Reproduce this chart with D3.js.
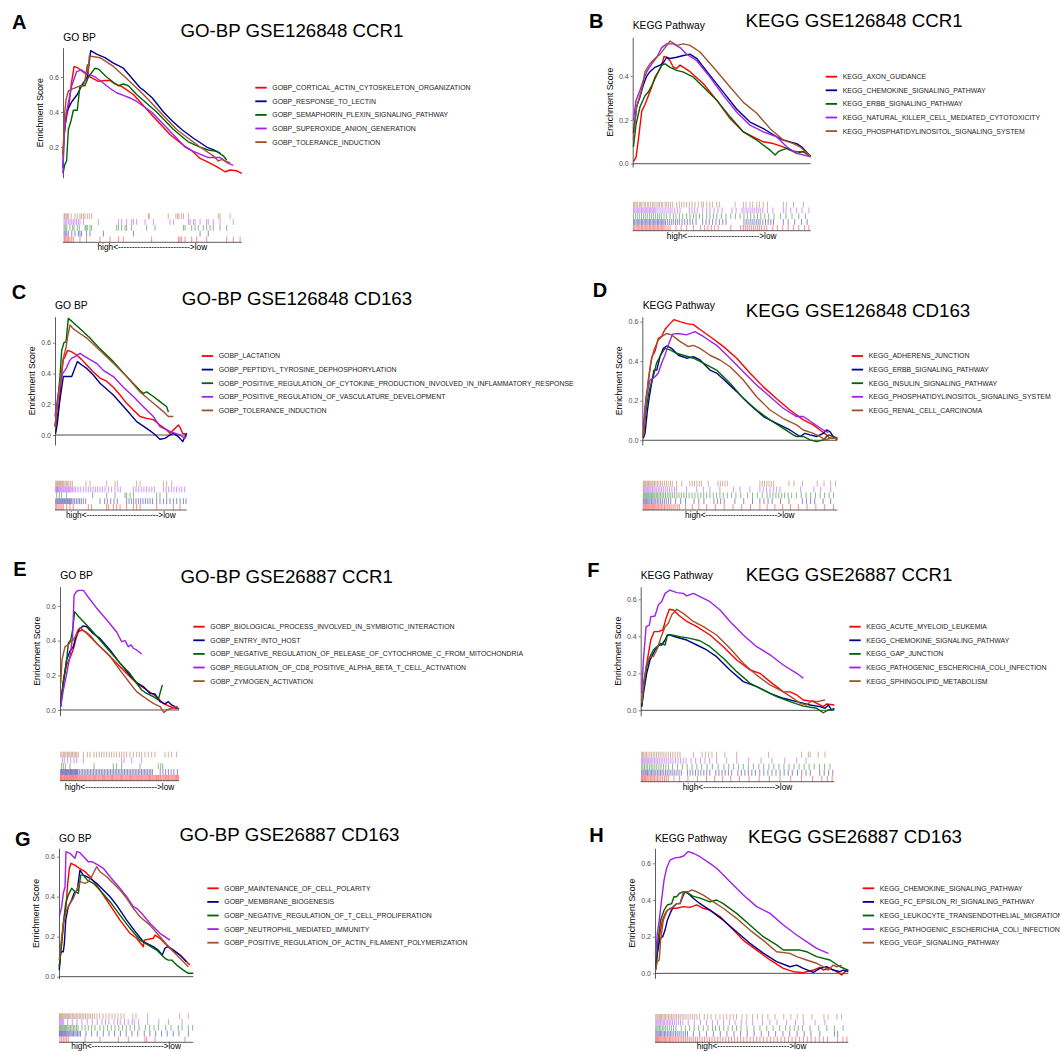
<!DOCTYPE html>
<html>
<head>
<meta charset="utf-8">
<script src="https://cdn.jsdelivr.net/npm/d3@7"></script>
<style>
  body { margin: 0; background: #fff; }
  svg { display: block; font-family: "Liberation Sans", Arial, Helvetica, sans-serif; }
</style>
</head>
<body>
<svg id="chart" width="1060" height="1051"></svg>
<script>
// цвета наборов генов (одинаковые во всех панелях)
const setColors = ['#FF0000', '#00008B', '#006400', '#A020F0', '#A0522D'];

const panelIds = ['A', 'B', 'C', 'D', 'E', 'F', 'G', 'H'];
const panelTitles = ['GO-BP GSE126848 CCR1', 'KEGG GSE126848 CCR1', 'GO-BP GSE126848 CD163', 'KEGG GSE126848 CD163',
  'GO-BP GSE26887 CCR1', 'KEGG GSE26887 CCR1', 'GO-BP GSE26887 CD163', 'KEGG GSE26887 CD163'];
const panelSubtitles = ['GO BP', 'KEGG Pathway', 'GO BP', 'KEGG Pathway', 'GO BP', 'KEGG Pathway', 'GO BP', 'KEGG Pathway'];
const yTicksA = [0.2, 0.4, 0.6];
const yTicksB = [0.0, 0.2, 0.4];
const yTicksRest = [0.0, 0.2, 0.4, 0.6];

// ---------- A ----------
const setsA = ['GOBP_CORTICAL_ACTIN_CYTOSKELETON_ORGANIZATION', 'GOBP_RESPONSE_TO_LECTIN', 'GOBP_SEMAPHORIN_PLEXIN_SIGNALING_PATHWAY', 'GOBP_SUPEROXIDE_ANION_GENERATION', 'GOBP_TOLERANCE_INDUCTION'];
const esA = [
  [[0,0.15],[0.6,0.30],[2,0.37],[3.5,0.45],[4.5,0.55],[6.2,0.66],[8.6,0.65],[15,0.60],[19.8,0.575],[23,0.58],[26.3,0.58],[29,0.56],[33,0.545],[39.4,0.50],[50,0.38],[60,0.27],[67.4,0.21],[72,0.18],[76.7,0.135],[80,0.12],[86,0.088],[90.7,0.059],[93.5,0.069],[97,0.065],[100,0.05]],
  [[0,0.08],[0.5,0.25],[2,0.40],[5,0.46],[8,0.5],[10.4,0.55],[13.6,0.6],[15.5,0.75],[18.8,0.73],[23.5,0.71],[28,0.68],[33.8,0.65],[38,0.6],[43,0.54],[45,0.525],[50,0.48],[56.2,0.40],[61,0.35],[66.4,0.30],[73,0.25],[80.4,0.20],[84,0.185],[87.9,0.165]],
  [[0,0.05],[1,0.10],[2,0.12],[3,0.30],[4.5,0.35],[5.8,0.41],[8,0.41],[9.5,0.55],[12.3,0.55],[14.2,0.6],[17.9,0.65],[19.8,0.645],[24.4,0.6],[28.2,0.57],[31,0.55],[33.8,0.56],[36.6,0.55],[41.2,0.5],[52.4,0.4],[61.8,0.3],[70.1,0.23],[76.7,0.2],[81.3,0.183],[86,0.175],[89.7,0.15],[91.6,0.126]],
  [[0,0.05],[0.5,0.25],[2,0.40],[4.9,0.55],[7.6,0.63],[10.4,0.64],[13.2,0.62],[17.9,0.6],[20.7,0.58],[24.4,0.55],[27,0.53],[30,0.51],[33.8,0.495],[37.5,0.48],[41.2,0.46],[49.6,0.4],[59,0.3],[68.3,0.2],[72,0.18],[76.7,0.16],[81.3,0.14],[87.9,0.14],[92,0.11],[95.3,0.095]],
  [[0,0.15],[1,0.40],[1.7,0.47],[3,0.52],[4.9,0.53],[8.6,0.545],[11.4,0.55],[12.3,0.58],[13.6,0.67],[14.2,0.62],[14.7,0.72],[20.7,0.71],[28.2,0.66],[34.7,0.6],[45,0.5],[54.3,0.4],[63.6,0.3],[70.1,0.25],[76.7,0.2],[84.1,0.15],[86.9,0.12],[88.8,0.13],[93.5,0.11]]
];
const rugA = [
  [0.6,1.1,1.7,2.4,3.1,3.9,4.9,5.8,9.5,13.2,20.7,26.3,31,33.8,49.6,64.6,65.5,66.4,68.3,72,74.8,80.4,91.6,95.3,99.1],
  [0.6,1.3,2.1,3,4.9,6.7,8.6,9.5,10.4,13.2,15.1,22.6,39.4,76.7,81.3],
  [0.6,1.3,2.1,3.9,5.4,6.2,8,9.1,12.3,12.9,13.6,15.1,16,30,31,32.8,34.7,35.6,38.4,46.8,51.5,67.4,68.3,72,73.9,75.7,78.5,80.4,82.3,84.1,87.9,91.6],
  [0.6,1.3,2.1,3,3.9,4.9,5.8,6.7,7.6,8.6,9.5,11.4,19.8,31,32.8,35.6,38.4,39.4,41.2,45.9,50.6,59.9,61.8,70.2,71.1,73,73.9,76.7,80.4,81.3,84.1,87.9,95.3],
  [0.6,1.1,1.7,2.4,3,4.5,6.7,8,9.5,10.4,11.4,12.3,13.6,14.7,16,47.8,48.3,58.9,63.2,64.2,64.9,66.4,67.4,70.2,86.9,87.9,93.5]
];

// ---------- B ----------
const setsB = ['KEGG_AXON_GUIDANCE', 'KEGG_CHEMOKINE_SIGNALING_PATHWAY', 'KEGG_ERBB_SIGNALING_PATHWAY', 'KEGG_NATURAL_KILLER_CELL_MEDIATED_CYTOTOXICITY', 'KEGG_PHOSPHATIDYLINOSITOL_SIGNALING_SYSTEM'];
const esB = [
  [[0.4,0.01],[1.9,0.03],[3.2,0.11],[5.1,0.24],[6.9,0.27],[8.8,0.31],[10.7,0.35],[12.5,0.395],[14.4,0.42],[16.3,0.45],[17.6,0.49],[19.1,0.485],[21,0.47],[22.8,0.44],[24.7,0.435],[26.6,0.45],[29.4,0.435],[32.2,0.42],[39.7,0.365],[47.2,0.29],[54.7,0.206],[62.2,0.145],[69.7,0.115],[73.4,0.10],[79,0.092],[84.6,0.077],[88.4,0.062],[92.1,0.055],[95.9,0.055],[100,0.032]],
  [[0.4,0.14],[2.2,0.26],[4.1,0.305],[6,0.36],[7.9,0.40],[9.7,0.42],[12.5,0.44],[15.4,0.45],[17.2,0.46],[19.1,0.486],[21,0.48],[24.7,0.486],[28.5,0.494],[32.2,0.50],[36,0.48],[43.4,0.403],[50.9,0.327],[58.4,0.25],[65.9,0.19],[73.4,0.16],[80.9,0.123],[84.6,0.108],[88.4,0.10],[92.1,0.092],[94.9,0.077],[100,0.032]],
  [[0.4,0.077],[1.9,0.18],[4.1,0.26],[6.9,0.31],[8.8,0.327],[10.7,0.357],[12.5,0.388],[14.4,0.42],[16.3,0.45],[18.2,0.456],[21,0.44],[24.7,0.426],[28.5,0.418],[34.1,0.395],[39.7,0.35],[47.2,0.29],[54.7,0.214],[62.2,0.145],[69.7,0.108],[77.2,0.062],[80,0.04],[81.8,0.055],[83.7,0.062],[86.5,0.07],[90.3,0.055],[92.1,0.047],[95.9,0.055],[100,0.035]],
  [[0.4,0.2],[1.9,0.29],[4.1,0.335],[6,0.38],[7.9,0.42],[10.7,0.456],[13.5,0.486],[16.3,0.53],[19.1,0.547],[22.8,0.547],[26.6,0.53],[30.3,0.50],[36,0.47],[43.4,0.395],[50.9,0.312],[58.4,0.236],[65.9,0.176],[73.4,0.145],[80.9,0.123],[86.5,0.077],[92.1,0.047],[100,0.032]],
  [[0.4,0.11],[2.2,0.26],[5.1,0.34],[6.9,0.42],[9.7,0.456],[12.5,0.48],[15.4,0.50],[18.2,0.53],[21,0.56],[24.7,0.54],[28.5,0.547],[32.2,0.54],[37.8,0.51],[45.3,0.44],[54.7,0.35],[62.2,0.28],[69.7,0.23],[77.2,0.16],[84.6,0.108],[90.3,0.092],[94,0.077],[100,0.032]]
];
const rugB = [
  [0.4,1.1,1.9,2.6,3.4,4.1,4.9,5.6,6.4,7.1,7.9,8.6,9.4,10.1,10.9,11.6,12.4,13.1,13.9,14.6,15.4,16.1,16.9,17.6,18.7,19.9,21,24.3,27.3,30.3,34.1,38.2,40.4,42.3,44.2,46.1,48,55.1,60.7,62.2,63.3,64.4,65.5,66.7,67.8,68.9,70.1,71.2,72.3,73.8,75.3,78.7,81.3,84.3,87.3,90.3,93.3,96.6,99],
  [0.4,1.1,1.9,2.6,3.4,4.1,4.9,5.6,6.4,7.1,7.9,8.6,9.4,10.1,10.9,11.6,12.4,13.1,13.9,14.6,15.4,16.1,16.9,17.6,18.4,19.5,20.6,21.7,22.8,24,25.1,26.2,27.7,29.2,30.7,32.2,33.7,35.6,39.3,41.2,43,44.9,46.8,48.7,50.6,52.4,62.5,63.7,64.8,66,67.1,68.2,69.4,70.5,71.6,73.1,74.6,76.1,77.6,79.1,84.6,87.3,91,94.8,98],
  [0.4,1.5,2.6,3.7,4.9,6,7.1,8.2,9.4,10.5,11.6,12.7,13.9,15,16.1,17.6,19.1,21,22.8,24.3,26.2,28.1,30.3,32.2,34.1,35.6,37.5,39.3,41.6,43.4,45.3,47.2,49.8,52.4,55.1,57.7,60.3,62.5,64.4,66.3,68.2,70.1,72,74.2,76.4,79.4,83.1,86.1,89.5,93.3,97],
  [0.4,1.1,1.9,2.6,3.4,4.1,4.9,5.6,6.4,7.1,7.9,8.6,9.4,10.1,10.9,11.6,12.4,13.1,14.2,15.4,16.5,17.6,18.7,19.9,21,22.1,23.6,25.1,26.6,31.8,33.3,34.8,36.3,39.3,41.6,43.4,45.7,47.9,50.2,55.8,58.1,61.4,62.5,63.7,64.8,66,67.1,68.2,69.4,70.5,71.6,73.1,75.7,78.7,84.6,86.1,88.8,92.1,95.1,99],
  [0.4,1.1,1.9,2.6,3.7,4.5,5.2,6.4,7.1,8.2,9,10.1,11.2,12,13.1,14.2,15,16.1,16.9,18.2,19.1,20.1,21.3,22.5,24.7,26.2,27.5,28.8,30.3,31.8,33.3,35,36.9,38.8,39.7,41.6,43.4,44.9,47.2,48.7,57.5,62.2,63.7,65.9,67.4,69.7,71.2,73.4,75.7,84.6,86.5,90.3,95.9]
];

// ---------- C ----------
const setsC = ['GOBP_LACTATION', 'GOBP_PEPTIDYL_TYROSINE_DEPHOSPHORYLATION', 'GOBP_POSITIVE_REGULATION_OF_CYTOKINE_PRODUCTION_INVOLVED_IN_INFLAMMATORY_RESPONSE', 'GOBP_POSITIVE_REGULATION_OF_VASCULATURE_DEVELOPMENT', 'GOBP_TOLERANCE_INDUCTION'];
const esC = [
  [[0.5,0.054],[2.5,0.16],[3.8,0.27],[5.1,0.40],[6.3,0.49],[7.6,0.51],[9.6,0.55],[12.7,0.54],[16.5,0.52],[20.3,0.49],[24.1,0.455],[29.1,0.41],[34.2,0.37],[39.2,0.35],[44.3,0.31],[49.4,0.26],[54.4,0.206],[59.5,0.163],[64.6,0.12],[69.6,0.108],[74.7,0.10],[79.7,0.065],[84.8,0.033],[87.3,0.011],[89.9,0.033],[93.7,0.065],[94.9,0.05],[97,0.01],[100,0.005]],
  [[0.5,0.01],[1.8,0.076],[3.3,0.2],[5.1,0.31],[6.3,0.38],[8.9,0.38],[12.7,0.38],[14.4,0.42],[17,0.477],[20.3,0.455],[24.1,0.433],[29.1,0.39],[34.2,0.336],[44.3,0.26],[54.4,0.163],[62,0.087],[69.6,0.043],[74.7,0.011],[79.7,-0.028],[83.5,-0.022],[87.3,0],[89.9,0.011],[93.7,-0.011],[97,-0.043],[98.7,-0.011],[100,0.011]],
  [[0,0.054],[1.8,0.2],[3.8,0.38],[5.1,0.55],[6.8,0.6],[8.4,0.607],[10.1,0.758],[12.7,0.74],[19,0.69],[26.6,0.63],[34.2,0.56],[44.3,0.477],[54.4,0.38],[64.6,0.29],[67.1,0.27],[69.6,0.28],[74.7,0.25],[79.7,0.217],[84.8,0.184],[86.1,0.15]],
  [[0,0.12],[1.8,0.23],[3.8,0.336],[5.8,0.40],[7.6,0.42],[8.9,0.44],[10.9,0.48],[12.7,0.50],[15.2,0.51],[19,0.53],[22.8,0.51],[26.6,0.49],[31.6,0.466],[36.7,0.42],[44.3,0.38],[51.9,0.31],[59.5,0.25],[67.1,0.184],[74.7,0.12],[79.7,0.054],[84.8,0.033],[89.9,0.015],[94.9,0],[98.7,-0.022],[100,0]],
  [[0,0.054],[2.5,0.25],[4.3,0.36],[6.3,0.50],[8.4,0.57],[9.6,0.64],[11.4,0.715],[13.9,0.69],[19,0.66],[24.1,0.63],[34.2,0.55],[44.3,0.466],[54.4,0.38],[64.6,0.28],[74.7,0.206],[82.3,0.152],[86.1,0.12],[89.9,0.12]]
];
const rugC = [
  [0.5,1.3,2.5,3.8,5.1,6.3,8.9,11.4,13.9,25.3,27.8,39.2,40.5,44.3,46.8,49.4,54.4,59.5,62,64.6,77.2,89.9,94.9],
  [0.5,1.3,2,2.8,3.5,4.3,5.1,5.8,6.6,7.3,8.1,8.9,9.6,10.4,11.1,11.9,12.7,13.7,14.9,16.2,17.5,18.7,20,21.5,23.3,34.2,37.7,39.7,42.3,44.8,47.3,54.4,56.2,58,59.7,61.5,63.3,65,66.8,68.6,70.4,72.2,74,77.2,79.7,82.3,84.8,87.3,89.9,92.4,95,97.5,99.5],
  [1.3,3.3,5.1,8.9,28.6,39.2,45.6,53.2,54.4,57,59.5,77.2,79.7,84.8],
  [0.5,1,1.5,2,2.5,3.2,3.9,4.6,5.3,6.1,6.8,7.6,8.4,9.1,9.9,10.6,11.4,12.2,13.2,14.4,15.7,17.5,19.2,21.5,23.5,25.3,27.1,28.9,30.6,32.4,34.2,36,38,40.5,43,45.5,47.8,49.6,59.5,61.5,63.5,65.5,67.5,69.5,71.5,73.5,75.5,82.3,84.3,86.3,88.3,90.3,92.3,94.3,96.3,98.5],
  [0.5,1.3,2,2.8,3.5,4.3,5.1,5.8,6.6,7.6,8.6,9.6,10.6,11.9,13.2,23.5,26.6,39.2,45.6,47.3,62,64.6,82.3,84.8,88.6]
];

// ---------- D ----------
const setsD = ['KEGG_ADHERENS_JUNCTION', 'KEGG_ERBB_SIGNALING_PATHWAY', 'KEGG_INSULIN_SIGNALING_PATHWAY', 'KEGG_PHOSPHATIDYLINOSITOL_SIGNALING_SYSTEM', 'KEGG_RENAL_CELL_CARCINOMA'];
const esD = [
  [[0.5,0.035],[1.4,0.15],[3.1,0.30],[4.8,0.42],[6.5,0.45],[8.2,0.515],[9.9,0.525],[11.6,0.56],[14.2,0.59],[16.2,0.61],[19.3,0.60],[22.7,0.59],[26.2,0.585],[29.6,0.56],[34.7,0.525],[41.5,0.475],[48.4,0.415],[55.2,0.34],[62.1,0.27],[68.9,0.21],[75.7,0.153],[82.6,0.103],[87.7,0.078],[91.1,0.052],[94.5,0.027],[96.2,0.01],[100,0.01]],
  [[0.5,0.01],[1.4,0.035],[2.6,0.15],[3.6,0.22],[4.8,0.29],[6,0.355],[7.4,0.355],[9.1,0.423],[10.8,0.465],[12.5,0.477],[15,0.465],[18.5,0.43],[22.7,0.415],[26.2,0.423],[29.6,0.406],[34.7,0.355],[38.1,0.34],[41.5,0.31],[48.4,0.246],[55.2,0.18],[62.1,0.12],[68.9,0.086],[75.7,0.052],[80.9,0.019],[83.4,0.035],[86,0.027],[89.4,0.019],[92.8,0.035],[94.5,0.052],[96.2,0.044],[97.9,0.019],[100,0.01]],
  [[0.5,0.019],[1.9,0.15],[3.6,0.255],[5.6,0.32],[7.3,0.39],[9.4,0.43],[11.6,0.465],[14.2,0.457],[17.6,0.44],[21,0.43],[26.2,0.415],[31.3,0.39],[34.7,0.372],[38.1,0.355],[45,0.288],[51.8,0.212],[58.6,0.153],[65.5,0.103],[72.3,0.06],[77.4,0.027],[79.1,0.019],[82.6,0.019],[86,0.002],[89.4,-0.007],[92.8,0.002],[95.4,0.027],[97.9,0.019],[100,0.002]],
  [[0.5,0.07],[1.9,0.22],[4,0.305],[6.5,0.32],[8.2,0.34],[9.9,0.39],[11.6,0.43],[13.3,0.48],[15.5,0.537],[18.5,0.54],[22.7,0.533],[27,0.55],[31.3,0.525],[38.1,0.48],[45,0.415],[51.8,0.347],[58.6,0.28],[65.5,0.22],[72.3,0.162],[79.1,0.12],[82.6,0.12],[87.7,0.086],[92.8,0.052],[95.4,0.039]],
  [[0.5,0.019],[1.9,0.187],[3.1,0.305],[4.3,0.39],[6,0.457],[8.2,0.507],[9.9,0.524],[12.5,0.54],[15,0.533],[19.3,0.5],[23.6,0.474],[26.2,0.48],[29.6,0.465],[34.7,0.43],[39.8,0.406],[45,0.372],[51.8,0.305],[58.6,0.22],[65.5,0.153],[72.3,0.11],[79.1,0.078],[82.6,0.052],[87.7,0.035],[91.1,0.019],[93.7,0.002],[96.2,0.01],[100,0.01]]
];
const rugD = [
  [0.5,1,1.5,2,2.5,3,3.5,4,4.6,5.2,5.8,6.4,7,7.7,8.4,9.1,9.8,10.6,11.4,12.2,13,13.9,14.8,15.8,16.8,17.9,19,22.2,25.6,29,33,37.5,42,46.5,51,55.5,60.3,64,68,72,76,80,84.5,89,93.5,98],
  [0.5,1,1.6,2.2,2.8,3.4,4,4.7,5.4,6.1,6.9,7.7,8.5,9.4,10.3,11.3,12.3,13.4,14.6,17.1,19.7,22.2,26.5,29,31.6,36.7,38.5,40.2,42,47.5,52,56.5,60.3,62.4,64.5,66.6,70.9,75.2,82.1,84.2,86.3,88.4,92.7,96.6],
  [0.5,1,1.5,2,2.5,3,3.5,4.1,4.7,5.3,5.9,6.5,7.2,7.9,8.6,9.4,10.2,11,11.9,12.8,13.7,14.6,15.6,16.6,17.7,18.8,20,21.3,22.6,24,25.5,27,28.5,30,31.5,33,34.7,36.4,38.1,39.8,41.5,43.6,45.8,48,50.5,54,56.5,59,61.5,64,65.5,67,68.5,70,71.5,73,74.8,76.6,79,81.5,84,86.4,88.8,91.2,93.5,95.8,98],
  [0.5,1,1.5,2.1,2.7,3.3,3.9,4.5,5.2,5.9,6.6,7.4,8.2,9,9.9,10.8,11.8,12.8,14,15.2,16.5,17.6,22.7,27.9,31.3,34.7,39.8,46.7,50.1,55.2,60.3,62,63.7,65.5,67.2,68.9,70.6,81.2,88,91.5,96.6],
  [0.5,1,1.5,2,2.6,3.2,3.8,4.4,5,5.6,6.3,7,7.8,8.6,9.4,10.3,11.3,12.3,13.3,14.4,15.4,17.6,20.2,24.4,25.6,26.8,28,29.2,30.3,33.8,38.8,40,41.2,42.4,43.6,60.3,61.5,62.7,63.9,65,66.2,67.4,75.2,77.8,82.1,89.7,93.2,96.6,99.1]
];

// ---------- E ----------
const setsE = ['GOBP_BIOLOGICAL_PROCESS_INVOLVED_IN_SYMBIOTIC_INTERACTION', 'GOBP_ENTRY_INTO_HOST', 'GOBP_NEGATIVE_REGULATION_OF_RELEASE_OF_CYTOCHROME_C_FROM_MITOCHONDRIA', 'GOBP_REGULATION_OF_CD8_POSITIVE_ALPHA_BETA_T_CELL_ACTIVATION', 'GOBP_ZYMOGEN_ACTIVATION'];
const esE = [
  [[0.6,0.04],[2.8,0.17],[5.6,0.26],[8.4,0.3],[11.2,0.35],[13.4,0.41],[15.4,0.45],[18.2,0.46],[21.8,0.45],[25.2,0.43],[30.8,0.385],[39.2,0.33],[47.6,0.27],[56,0.21],[64.4,0.154],[72.8,0.115],[81.2,0.077],[86.8,0.038],[92.4,0.02],[96.6,0.01],[99.4,0.01]],
  [[0.6,0.02],[2.8,0.154],[5.6,0.29],[8.4,0.34],[11.2,0.365],[14,0.44],[16.8,0.47],[19.6,0.485],[22.4,0.48],[28,0.44],[33.6,0.413],[42,0.346],[50.4,0.27],[58.8,0.2],[64.4,0.158],[70,0.135],[75.6,0.096],[79.8,0.092],[84,0.048],[88.2,0.035],[91,0.048],[93.8,0.029],[96.6,0.02],[100,0.004]],
  [[0.6,0.04],[3.4,0.19],[5.6,0.29],[7,0.385],[9,0.404],[10.6,0.46],[12.3,0.567],[15.4,0.54],[19.6,0.51],[25.2,0.47],[33.6,0.404],[42,0.337],[50.4,0.27],[58.8,0.21],[64.4,0.154],[68.6,0.115],[72.8,0.096],[78.4,0.077],[82.6,0.058],[84,0.096],[86,0.144]],
  [[0.6,0.02],[2.8,0.115],[5.6,0.21],[8.4,0.31],[10.6,0.42],[11.8,0.66],[13.4,0.68],[15.4,0.69],[19.6,0.69],[23.8,0.65],[30.8,0.587],[39.2,0.52],[47.6,0.45],[51.8,0.394],[54.6,0.4],[57.4,0.365],[59.7,0.375],[61.6,0.356],[64.4,0.346],[68.6,0.323]],
  [[0.6,0.154],[1.7,0.29],[4.2,0.365],[7,0.375],[9,0.394],[11.2,0.404],[13.4,0.43],[14.8,0.46],[16.8,0.475],[19.6,0.46],[25.2,0.423],[33.6,0.365],[42,0.31],[50.4,0.23],[58.8,0.154],[64.4,0.106],[70,0.077],[78.4,0.038],[84,0.02],[87.4,-0.015],[89.6,0],[93.8,0.01],[98,0.02],[100,0.004]]
];
const rugE = [
  [0.4,1.1,1.7,2.4,3.2,3.9,4.5,5.3,6,6.6,7.4,8.1,8.7,9.5,10.2,10.9,11.5,12.3,13,13.8,14.5,15.3,16.2,17,17.9,18.7,19.6,20.5,21.5,22.3,23.4,24.3,25.1,26,27.1,28,28.9,29.8,30.8,31.9,32.7,33.6,34.6,35.7,36.5,37.4,38.4,39.5,40.3,41.2,42.3,43.2,44.1,45,46.1,47,47.9,48.8,49.8,50.9,51.7,52.6,53.6,54.7,55.5,56.4,57.4,58.5,59.3,60.2,61.1,62.1,63,64,64.9,65.8,66.7,67.8,68.7,69.5,70.6,71.5,72.4,73.3,74.4,75.2,76.1,77.2,78.1,79,80,81,81.8,82.8,83.9,84.7,85.6,86.7,87.6,88.5,89.4,90.5,91.3,92.3,93.2,94.2,95.1,96,97,97.9,98.8,99.6],
  [0.5,1.2,1.9,2.6,3.3,4,4.7,5.4,6.1,6.8,7.5,8.2,8.9,9.6,10.3,11,11.7,12.4,13.1,13.8,14.5,15.2,16.5,17.8,19.1,20.4,21.7,23,24.3,25.6,26.9,28.2,29.5,30.8,32.1,33.4,34.7,36,37.3,38.6,39.9,41.2,42.5,43.8,45.1,46.4,47.7,49,50.3,51.6,52.9,54.2,55.5,56.8,58.1,59.4,60.7,62,63.3,64.6,65.9,67.2,68.5,69.8,71.1,72.4,73.7,75,76.3,77.6,84.2,86.5,88.8,91.1,93.4,95.7,98.6],
  [1.4,2.8,4.5,8.4,28.6,44.8,47.6,51.8,67.2,82.6,84.6,86.3],
  [2,3.6,6.2,9,11.8,14,19.6,51.8,53.8,60.2,68.6],
  [0.6,1.7,2.8,3.9,5,6.2,7.3,8.4,9.5,10.6,11.8,12.9,14,15.4,19.6,23,25.2,28.6,30.8,33,35,37,39.2,41.5,43.4,45.4,47.6,49.9,51.8,53.8,56,58.8,61.6,64.4,66.7,68.6,71.4,74.2,77,79.8,88.2,91,93.8,98]
];

// ---------- F ----------
const setsF = ['KEGG_ACUTE_MYELOID_LEUKEMIA', 'KEGG_CHEMOKINE_SIGNALING_PATHWAY', 'KEGG_GAP_JUNCTION', 'KEGG_PATHOGENIC_ESCHERICHIA_COLI_INFECTION', 'KEGG_SPHINGOLIPID_METABOLISM'];
const esF = [
  [[0.5,0.02],[1.7,0.146],[3.4,0.27],[5.2,0.38],[6.9,0.425],[9.1,0.425],[11.4,0.434],[13.1,0.497],[14.8,0.546],[16.9,0.542],[19.5,0.515],[23.8,0.48],[29,0.452],[35.8,0.407],[42.7,0.344],[49.6,0.272],[56.5,0.218],[61.6,0.2],[66.8,0.155],[73.7,0.1],[77.1,0.1],[80.6,0.083],[84,0.056],[89.2,0.047],[92.6,0.029],[94.3,0.02],[96,0.034],[100,0.029]],
  [[0.5,0.02],[1.7,0.11],[3.1,0.2],[4.8,0.272],[7.4,0.326],[9.6,0.353],[10.8,0.353],[12.6,0.38],[13.8,0.407],[15.1,0.407],[18.6,0.395],[23.8,0.38],[29,0.353],[34.1,0.326],[39.2,0.29],[46.1,0.218],[53,0.155],[59.9,0.128],[66.8,0.092],[73.7,0.065],[80.6,0.047],[87.5,0.029],[92.6,0.02],[95.2,0.011],[96.9,0.029],[98.6,0.002],[100,0.011]],
  [[0.5,0.029],[1.7,0.128],[3.1,0.236],[4.8,0.29],[6.5,0.326],[8.3,0.344],[10.3,0.362],[12.6,0.353],[13.8,0.407],[16,0.407],[20.3,0.398],[25.5,0.389],[30.6,0.376],[35.8,0.344],[42.7,0.281],[49.6,0.209],[56.5,0.146],[63.3,0.11],[70.2,0.074],[77.1,0.047],[84,0.023],[90.9,0.011],[94.3,-0.013],[96.9,0.002],[100,0.005]],
  [[0.5,0.092],[1.4,0.272],[2.8,0.452],[4.5,0.461],[5.2,0.506],[7.4,0.51],[9.1,0.57],[10.8,0.587],[12.6,0.632],[15.1,0.65],[18.6,0.636],[22,0.632],[23.8,0.618],[27.2,0.632],[30.6,0.614],[35.8,0.587],[41,0.542],[46.1,0.48],[53,0.407],[59.9,0.344],[66.8,0.3],[73.7,0.245],[80.6,0.2],[84,0.173]],
  [[0.5,0.038],[1.7,0.164],[3.1,0.254],[4.8,0.29],[6.5,0.29],[8.3,0.326],[10.3,0.389],[12.6,0.452],[14.3,0.47],[16,0.515],[18.6,0.546],[22,0.524],[27.2,0.48],[32.4,0.452],[39.2,0.407],[46.1,0.335],[53,0.254],[59.9,0.19],[66.8,0.137],[73.7,0.1],[78.8,0.065],[82.3,0.038],[85.7,0.029],[88.3,0.052],[90.9,0.047],[95.2,0.056]]
];
const rugF = [
  [0.4,0.9,1.4,1.9,2.5,3.1,3.7,4.3,5,5.7,6.4,7.1,7.9,8.7,9.5,10.4,11.3,12.3,13.3,14.3,17.2,20.1,24.4,29.3,34,38.2,42.3,46.5,51,56,61.2,66.5,72,77.5,83,88.8,93.6,96.4,98.9],
  [0.5,1.1,1.7,2.3,2.9,3.5,4.2,4.9,5.6,6.3,7,7.8,8.6,9.4,10.2,11,11.9,12.8,13.7,14.6,15.6,16.6,17.6,18.7,19.8,21,24.2,25.5,26.9,28.3,29.7,31.1,32.6,34.1,35.7,38.8,40.4,42,43.6,45.3,47,50.2,52,53.8,55.6,57.4,59.2,61.5,63.6,65.7,67.8,69.9,72,74.1,76.2,78.3,81,83.2,85.4,87.6,92.5,94.8,97.1,99.2],
  [0.5,1.2,2,2.8,3.6,4.5,5.4,6.3,7.3,8.3,9.4,10.5,11.7,13,14.4,16.5,19,21.5,24,26.5,29,31.5,34.3,37,40,43,45.5,48,50.5,53,55.6,58.2,61,63.5,66.2,68.8,71.4,74,76.6,79.2,81.8,84.4,87,89.6,92.3,95,97.8],
  [0.5,1,1.6,2.2,2.8,3.4,4.1,4.8,5.5,6.3,7.1,7.9,8.7,9.6,10.5,11.4,12.4,13.4,14.5,15.6,16.7,18,19.3,20.6,22,23.4,26,28.4,30.8,33.2,35.6,39.2,44.4,49.6,55.8,62.2,67.8,74.4,80.6,85.4],
  [0.5,1,1.6,2.3,3,3.8,4.7,5.5,6.4,7.3,8.2,9.1,10,11,12,13.1,14.2,15.4,16.6,17.8,19.1,20.3,27.2,31.7,33.4,35.1,36.8,39.2,43.5,49.6,66,83.1,86.6,87.5,91.7,95.2]
];

// ---------- G ----------
const setsG = ['GOBP_MAINTENANCE_OF_CELL_POLARITY', 'GOBP_MEMBRANE_BIOGENESIS', 'GOBP_NEGATIVE_REGULATION_OF_T_CELL_PROLIFERATION', 'GOBP_NEUTROPHIL_MEDIATED_IMMUNITY', 'GOBP_POSITIVE_REGULATION_OF_ACTIN_FILAMENT_POLYMERIZATION'];
const esG = [
  [[0.2,0.05],[2,0.167],[3.7,0.283],[5.2,0.35],[6.5,0.467],[7.7,0.54],[8.9,0.567],[11.9,0.558],[15.6,0.54],[19.4,0.525],[23.1,0.5],[28,0.458],[33,0.408],[38,0.358],[45.4,0.283],[52.9,0.217],[57.8,0.192],[62.8,0.15],[63.5,0.183],[70.2,0.192],[71.5,0.208],[75.2,0.192],[80.1,0.158],[85.1,0.133],[90.1,0.108],[95,0.075],[97.5,0.058]],
  [[0.2,0.033],[1.2,0.117],[2,0.125],[3.2,0.125],[4,0.167],[5,0.283],[6.9,0.35],[9.4,0.383],[11.2,0.417],[13.6,0.433],[15.6,0.533],[18.1,0.508],[20.6,0.5],[23.1,0.492],[28,0.467],[33,0.433],[38,0.4],[42.9,0.358],[50.4,0.283],[57.8,0.217],[62.8,0.175],[70.2,0.15],[73.9,0.133],[76.9,0.108],[78.9,0.142],[80.6,0.15],[85.1,0.133],[90.1,0.108],[95,0.075]],
  [[0.2,0.05],[2,0.167],[3.2,0.267],[5,0.367],[6.9,0.408],[9.4,0.442],[11.9,0.425],[14.4,0.417],[16.1,0.508],[18.1,0.508],[21.1,0.483],[25.6,0.467],[30.5,0.433],[38,0.375],[45.4,0.308],[52.9,0.242],[60.3,0.183],[66.5,0.158],[72.7,0.133],[78.9,0.092],[81.4,0.083],[83.9,0.083],[87.6,0.058],[92.6,0.033],[96.3,0.017],[100,0.017]],
  [[0.2,0.3],[2,0.35],[3.2,0.417],[4.5,0.45],[5.2,0.625],[8.2,0.617],[10.7,0.6],[11.9,0.592],[13.2,0.625],[15.6,0.62],[19.4,0.592],[21.8,0.575],[24.3,0.575],[26.8,0.567],[29.3,0.558],[33,0.542],[38,0.5],[45.4,0.442],[50.4,0.4],[55.3,0.35],[57.8,0.342],[61.5,0.317],[67.7,0.267],[75.2,0.217],[82.6,0.183]],
  [[0.2,0.083],[1.5,0.167],[3.2,0.267],[5.7,0.333],[8.2,0.367],[10.7,0.392],[13.2,0.433],[15.6,0.475],[19.4,0.467],[21.8,0.475],[24.3,0.5],[28,0.55],[30.5,0.525],[35.5,0.5],[40.4,0.467],[45.4,0.433],[50.4,0.392],[55.3,0.342],[60.3,0.3],[67.7,0.258],[75.2,0.2],[82.6,0.142],[90.1,0.092],[96.3,0.05]]
];
const rugG = [
  [0.7,2,3.2,4.5,5.7,6.9,19.4,30.5,44.2,51.6,64,65.3,71.5,93.8],
  [0.3,0.9,1.5,2.1,2.8,3.5,4.2,4.9,5.7,6.5,7.3,8.1,9,9.9,10.8,11.8,12.8,13.8,14.9,16,20.1,24.3,28.5,33,37.2,41.4,45.7,50,54.3,58.6,63.5,67.7,72,76.4,80.6,85.1,89.3,96.3],
  [0.3,1,1.7,2.4,3.2,4,4.8,5.7,6.6,7.5,8.5,9.6,10.7,11.8,13,14.2,17.1,19.4,21.8,24.3,26.8,30.5,33.3,36.1,38.9,41.7,44.5,47.3,50.1,53,56.3,59.6,64.3,67.5,70.8,74,79.5,83.4,88.8,91.6,96.3,99.5],
  [0.3,1,1.8,2.6,3.5,6.5,9.9,13.4,17.1,21,24.8,28.5,32,34.6,37.2,40.9,43.6,45.6,48.8,51.5,54.5,56,59.3,66,74.4,81.6,91.6],
  [0.3,0.9,1.6,2.3,3,3.8,4.6,5.4,6.2,7.1,8,8.9,9.9,10.9,11.9,12.9,14,15.1,16.2,17.3,18.5,19.7,21,22.3,23.6,25,26.5,28.3,30.3,32.8,35,37.2,39.5,41.7,43.9,46.2,48.4,55,57.3,66,89.8,96.3]
];

// ---------- H ----------
const setsH = ['KEGG_CHEMOKINE_SIGNALING_PATHWAY', 'KEGG_FC_EPSILON_RI_SIGNALING_PATHWAY', 'KEGG_LEUKOCYTE_TRANSENDOTHELIAL_MIGRATION', 'KEGG_PATHOGENIC_ESCHERICHIA_COLI_INFECTION', 'KEGG_VEGF_SIGNALING_PATHWAY'];
const esH = [
  [[0.3,0.018],[1.4,0.127],[2.6,0.218],[3.8,0.29],[5.7,0.336],[7.8,0.355],[11.2,0.355],[14.7,0.364],[18.1,0.36],[21.6,0.373],[25,0.355],[28.4,0.345],[33.6,0.31],[38.8,0.255],[45.7,0.18],[52.6,0.127],[59.5,0.073],[66.4,0.027],[71.6,0.009],[76.7,0.004],[81.9,0.018],[85.3,0.033],[87.1,0.018],[90.5,0.027],[94,0.009],[96.6,-0.009],[98.3,0.009],[100,0.018]],
  [[0.3,0.018],[1.2,0.11],[2.6,0.19],[4,0.2],[5.2,0.236],[6.4,0.29],[7.8,0.327],[9.5,0.364],[11.2,0.38],[12.9,0.38],[14.3,0.418],[15.5,0.445],[17.2,0.436],[19.8,0.41],[23.3,0.38],[28.4,0.345],[35.3,0.29],[42.2,0.227],[49.1,0.164],[56,0.11],[62.9,0.064],[69.8,0.036],[73.3,0.045],[76.7,0.027],[81.9,0.005],[85.3,0.027],[88.8,0.036],[92.2,0.018],[95.7,0.009],[97.4,0.018],[100,0.009]],
  [[0.3,0.036],[1.4,0.164],[2.9,0.29],[4.7,0.345],[6.4,0.373],[8.6,0.38],[9.8,0.418],[11.2,0.418],[12.6,0.436],[14.7,0.445],[17.2,0.436],[19.8,0.42],[23.3,0.41],[28.4,0.39],[31.9,0.4],[35.3,0.38],[42.2,0.327],[49.1,0.264],[56,0.2],[62.9,0.155],[66.4,0.127],[71.6,0.127],[75,0.127],[78.4,0.118],[83.6,0.091],[90.5,0.073],[95.7,0.036],[100,0.018]],
  [[0.3,0.09],[1.2,0.218],[2.2,0.29],[3.4,0.4],[4.7,0.51],[6,0.573],[7.8,0.618],[10.3,0.63],[12.9,0.633],[14.8,0.64],[17.2,0.664],[19.8,0.655],[23.3,0.636],[28.4,0.6],[31.9,0.573],[38.8,0.5],[45.7,0.427],[52.6,0.364],[59.5,0.327],[66.4,0.264],[73.3,0.209],[78.4,0.173],[83.6,0.136],[89.7,0.109]],
  [[0.3,0.018],[1.2,0.064],[2.2,0.073],[2.9,0.18],[4.3,0.29],[6.4,0.345],[8.6,0.355],[11.2,0.38],[12.9,0.38],[14.8,0.445],[17.2,0.445],[19,0.455],[21.6,0.445],[25,0.427],[30.2,0.39],[35.3,0.355],[42.2,0.3],[49.1,0.236],[56,0.18],[62.9,0.118],[69.8,0.109],[73.3,0.091],[78.4,0.073],[83.6,0.055],[87.1,0.036],[89.7,0.018],[92.2,0.045],[94,0.036],[96.6,0.045]]
];
const rugH = [
  [0.3,0.8,1.3,1.8,2.4,3,3.6,4.2,4.8,5.4,6.1,6.8,7.5,8.2,8.9,9.7,10.5,11.3,12.1,13,13.9,14.8,15.7,16.7,17.7,18.7,19.8,20.9,22,23.2,24.4,25.6,26.9,28.2,29.5,30.9,32.3,33.7,35.1,36.6,38.1,39.6,41.1,42.7,44.3,45.9,47.5,49.2,50.9,52.6,54.3,56.1,57.9,59.7,61.5,63.3,65.2,67.1,69,70.9,72.8,74.8,76.8,78.8,80.8,82.9,85,87.1,89.3,94.5,97.2,99.3],
  [0.4,1,1.6,2.2,2.8,3.5,4.2,4.9,5.6,6.4,7.2,8,8.8,9.7,10.6,11.5,12.5,13.5,14.6,15.7,16.8,19.8,23.1,26.6,30.2,33.8,37.2,40.9,44.3,47.7,51.3,55,58.8,62.4,66.2,69.7,73.5,77.2,80.7,85.3,92.9,94.5],
  [0.4,1,1.6,2.3,3,3.8,4.6,5.5,6.4,7.4,8.5,9.6,10.8,13.6,15.7,17.9,20.3,22.6,25,27.4,29.8,31.3,33.4,35.6,37.8,40,42.2,44.5,47.6,51.2,54.3,57.8,61.1,64.5,67.6,69.8,72,74.1,76.3,80.2,84.7,88.9,92.8,97.3],
  [0.4,1,1.6,2.2,2.9,3.6,4.3,5,5.8,6.6,7.4,8.2,9.1,10,11,12.1,13.2,14.4,17.2,20.3,23.5,26.6,29.7,32.4,35.5,38.6,41.4,44.6,47.2,50.5,55.6,59.4,63.1,68.1,72.7,76.9,82.8,87.9],
  [0.4,1,1.6,2.2,2.8,3.4,4.1,4.8,5.5,6.2,7,7.8,8.6,9.4,10.3,11.2,12.1,13,14,15,16,17.1,18.2,19.3,20.5,21.7,23,25.5,27.2,29,31.5,33.6,35.3,37.1,38.8,40.5,42.2,45,47.5,50.5,53,55.5,58.4,62.1,66.6,70.3,73.6,76.6,81.2,87.4,89.5,94.1,96.5]
];

const panelSets = [setsA, setsB, setsC, setsD, setsE, setsF, setsG, setsH];
const panelES = [esA, esB, esC, esD, esE, esF, esG, esH];
const panelRugs = [rugA, rugB, rugC, rugD, rugE, rugF, rugG, rugH];
const panelTicks = [yTicksA, yTicksB, yTicksRest, yTicksRest, yTicksRest, yTicksRest, yTicksRest, yTicksRest];
const panelYDomains = [[0.025, 0.767], [-0.015, 0.577], [-0.065, 0.769], [-0.024, 0.625], [-0.033, 0.711], [-0.029, 0.668], [-0.01, 0.642], [-0.027, 0.682]];

// разметка панелей (пиксели)
const layout = [
  {lab:[12,29],    title:[292,36.7],  sub:[63.3,40.7],  x0:63,    x1:241.7, top:47.7,  bot:177.7, rug:[213.3,242.3],  hl:250.3, leg:[255.3,87.7]},
  {lab:[589,28.3], title:[854,26.7],  sub:[632.7,29.3], x0:632.7, x1:810.7, top:37.3,  bot:167,   rug:[201.7,230.7],  hl:238.7, leg:[825.7,76.7]},
  {lab:[11.7,299.3], title:[297,305], sub:[55,309.3],   x0:55,    x1:186.7, top:316.7, bot:445,   rug:[480.7,510],    hl:518,   leg:[201.7,356]},
  {lab:[592.7,297.3], title:[858,317.3], sub:[642.7,309.3], x0:642.3, x1:837.3, top:316.7, bot:445, rug:[480.7,510], hl:518, leg:[851.7,356]},
  {lab:[13.3,576], title:[286.7,582.7], sub:[60.3,579.3], x0:60,  x1:179,   top:586.7, bot:715.7, rug:[751.7,780.7],  hl:789.5, leg:[193.3,626.7]},
  {lab:[587.3,576.7], title:[849,580.7], sub:[640.7,579.3], x0:640.7, x1:834.3, top:586.7, bot:715.7, rug:[751.7,781.7], hl:790, leg:[849.3,626.7]},
  {lab:[15,846],   title:[289.5,841], sub:[59,842],     x0:59,    x1:193.3, top:848.3, bot:978.7, rug:[1013.3,1042.3], hl:1049, leg:[207.3,888.3]},
  {lab:[589.3,842.3], title:[855,842.7], sub:[655,842], x0:655,   x1:848.3, top:848.3, bot:978.3, rug:[1014,1042.3],  hl:1049, leg:[862.7,888.3]}
];

const svg = d3.select('#chart');

function drawPanel(i) {
   const L = layout[i];
   const g = svg.append('g').attr('class', 'panel-' + panelIds[i]);
   const x = d3.scaleLinear().domain([0, 100]).range([L.x0, L.x1]);
   const y = d3.scaleLinear().domain(panelYDomains[i]).range([L.bot, L.top]);

   // буква панели, заголовок, подзаголовок
   g.append('text').attr('x', L.lab[0]).attr('y', L.lab[1])
      .attr('font-size', 20).attr('font-weight', 'bold').text(panelIds[i]);
   g.append('text').attr('x', L.title[0]).attr('y', L.title[1])
      .attr('font-size', 18.7).attr('text-anchor', 'middle').text(panelTitles[i]);
   g.append('text').attr('x', L.sub[0]).attr('y', L.sub[1])
      .attr('font-size', 10.3).text(panelSubtitles[i]);

   // линия нуля
   if (panelYDomains[i][0] < 0) {
      g.append('line').attr('x1', L.x0).attr('x2', L.x1)
         .attr('y1', y(0)).attr('y2', y(0))
         .attr('stroke', '#222').attr('stroke-width', 0.8);
   }

   // ось Y
   const axis = d3.axisLeft(y).tickValues(panelTicks[i]).tickFormat(d3.format('.1f'))
      .tickSize(2).tickSizeOuter(0).tickPadding(2);
   const ag = g.append('g').attr('transform', 'translate(' + L.x0 + ',0)').call(axis);
   ag.select('.domain').attr('stroke', '#333').attr('stroke-width', 0.8);
   ag.selectAll('.tick line').attr('stroke', '#333').attr('stroke-width', 0.6);
   ag.selectAll('.tick text').attr('fill', '#4D4D4D').attr('font-size', 7).attr('font-family', null);

   g.append('text')
      .attr('transform', 'translate(' + (L.x0 - 20) + ',' + ((L.top + L.bot) / 2) + ') rotate(-90)')
      .attr('text-anchor', 'middle').attr('font-size', 8.7).text('Enrichment Score');

   // кривые ES
   const line = d3.line().x(d => x(d[0])).y(d => y(d[1]));
   panelES[i].forEach((s, k) => {
      g.append('path').attr('d', line(s)).attr('fill', 'none')
         .attr('stroke', setColors[k]).attr('stroke-width', 1.4).attr('stroke-linejoin', 'round');
   });

   // полоски попаданий генов (нижний ряд — первый набор)
   const rowH = (L.rug[1] - L.rug[0]) / 5;
   panelRugs[i].forEach((r, k) => {
      const yb = L.rug[1] - k * rowH;
      g.append('g').selectAll('line').data(r).enter().append('line')
         .attr('x1', d => x(d)).attr('x2', d => x(d))
         .attr('y1', yb).attr('y2', yb - rowH)
         .attr('stroke', setColors[k]).attr('stroke-width', 1).attr('stroke-opacity', 0.45);
   });
   g.append('line').attr('x1', L.x0).attr('x2', L.x1)
      .attr('y1', L.rug[1]).attr('y2', L.rug[1])
      .attr('stroke', '#333').attr('stroke-width', 0.8);
   g.append('text').attr('x', (L.x0 + L.x1) / 2).attr('y', L.hl)
      .attr('text-anchor', 'middle').attr('font-size', 8.3)
      .text('high<' + '-'.repeat(26) + '>low');

   // легенда
   panelSets[i].forEach((name, k) => {
      const ly = L.leg[1] + k * 13.6;
      g.append('line').attr('x1', L.leg[0]).attr('x2', L.leg[0] + 11.4)
         .attr('y1', ly).attr('y2', ly)
         .attr('stroke', setColors[k]).attr('stroke-width', 1.8);
      g.append('text').attr('x', L.leg[0] + 17).attr('y', ly)
         .attr('dy', '0.35em').attr('font-size', 6.9).attr('fill', '#222').text(name);
   });
}

panelIds.forEach((d, i) => drawPanel(i));
</script>
</body>
</html>
